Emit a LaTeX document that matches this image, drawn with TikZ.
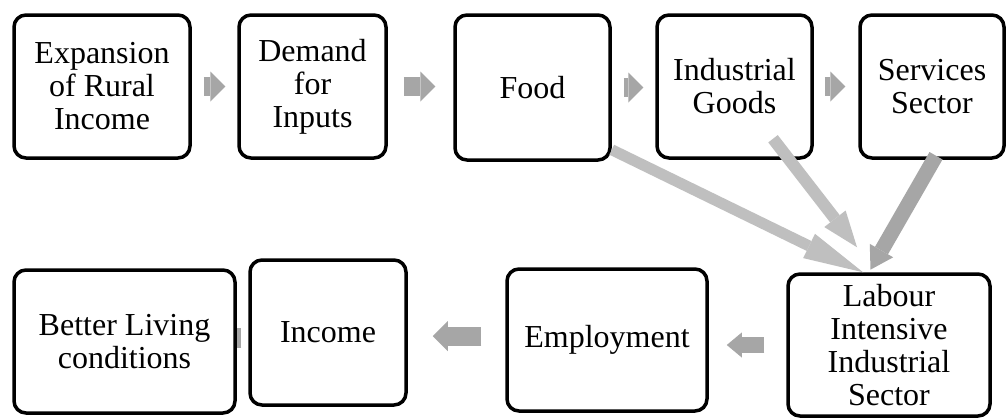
\documentclass[tikz,border=0pt]{standalone}
\usepackage{fontspec}
\setmainfont{Liberation Serif}
\usetikzlibrary{arrows.meta,backgrounds}

\definecolor{flowgrey}{HTML}{A6A6A6}
\definecolor{linkgrey}{HTML}{BFBFBF}

\tikzset{
    stage/.style={draw, line width=3.5pt, rounded corners=12pt, fill=white, align=center,
        inner sep=0pt, font=\fontsize{32pt}{33pt}\selectfont},
    flow/.style={draw=flowgrey, line width=19pt, -{Triangle[length=15pt,width=30pt,line width=0pt]}},
    link/.style={draw=linkgrey, line width=11pt, -{Triangle[length=#1,width=27pt,line width=0pt]}},
}

\begin{document}
\begin{tikzpicture}[x=1pt,y=-1pt]
    \useasboundingbox (0,0) rectangle (1008,418);

    % top row
    \node[stage, minimum width=176pt, minimum height=143pt] (exp) at (102,86.5) {Expansion\\of Rural\\Income};
    \node[stage, minimum width=147pt, minimum height=143pt] (dem) at (312.5,86.5) {Demand\\for\\Inputs};
    \node[stage, minimum width=155pt, minimum height=145pt] (food) at (532.5,87.5) {Food};
    \node[stage, minimum width=155pt, minimum height=143pt] (ind) at (734.5,86.5) {Industrial\\Goods};
    \node[stage, minimum width=144pt, minimum height=143pt] (serv) at (932,86.5) {Services\\Sector};

    % bottom row
    \node[stage, minimum width=202pt, minimum height=142pt] (lab) at (889,345) {Labour\\Intensive\\Industrial\\Sector};
    \node[stage, minimum width=200pt, minimum height=142pt] (emp) at (607,340) {Employment};
    \node[stage, minimum width=156pt, minimum height=145pt] (inc) at (328,332.5) {Income};
    \node[stage, minimum width=221pt, minimum height=143pt] (bet) at (124.5,341.5) {Better Living\\conditions};

    \foreach \a/\b/\s/\t in {exp/dem/12/12, dem/food/16/18, food/ind/12/12, ind/serv/11/13}
        \draw[flow, shorten <=\s pt, shorten >=\t pt] (\a.east) -- (\a.east -| \b.west);

    \draw[flow, line width=16pt, -{Triangle[length=15pt,width=25pt,line width=0pt]}, shorten <=22pt, shorten >=18pt]
        (lab.west) -- (lab.west -| emp.east);
    \draw[flow, shorten <=24pt, shorten >=25pt] ([yshift=4pt]emp.west) -- ([yshift=4pt]emp.west -| inc.east);
    \begin{pgfonlayer}{background}
        \fill[white] (0,0) rectangle (1008,418);
        \draw[flow, line width=20pt] ([xshift=-7pt,yshift=-5.5pt]inc.west) -- ([xshift=-7pt,yshift=-5.5pt]inc.west -| bet.center);
    \end{pgfonlayer}

    % into the labour box
    \draw[link=22pt, draw=flowgrey, line width=15pt, shorten >=3pt] ([xshift=4pt,yshift=4pt]serv.south) -- ([xshift=-20pt]lab.north);
    \draw[link=36pt, line width=12pt] ([xshift=38.5pt,yshift=21pt]ind.south) -- ([xshift=-32pt,yshift=25pt]lab.north);
    \draw[link=60pt] ([yshift=12pt]food.south east) -- ([xshift=-26pt]lab.north);
\end{tikzpicture}
\end{document}
